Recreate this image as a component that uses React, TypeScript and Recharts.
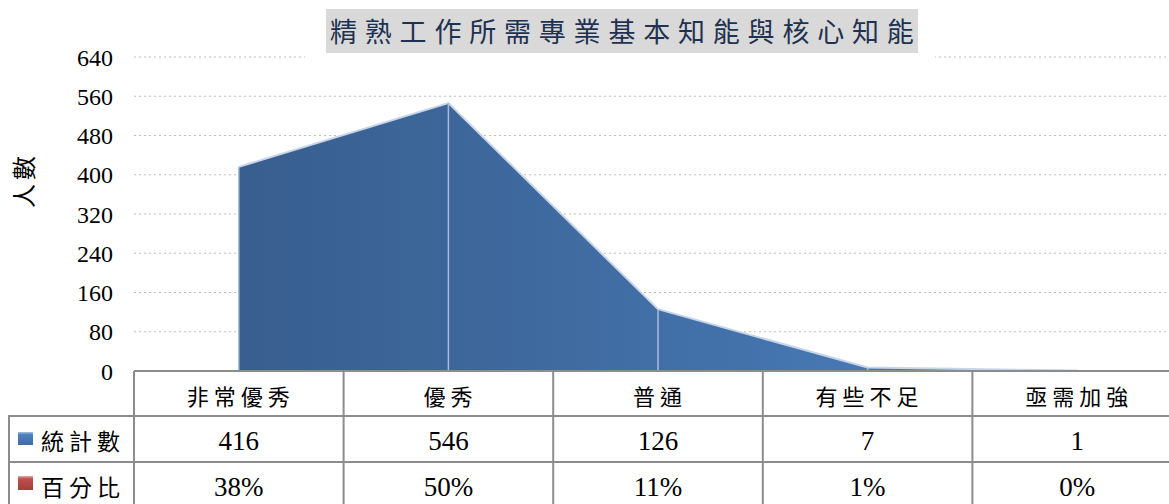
import React from 'react';
import { ComposedChart, Area, XAxis, YAxis, CartesianGrid, ReferenceLine } from 'recharts';

const categories = ['非常優秀', '優秀', '普通', '有些不足', '亟需加強'];
const counts = [416, 546, 126, 7, 1];
const percents = ['38%', '50%', '11%', '1%', '0%'];
const yTicks = [0, 80, 160, 240, 320, 400, 480, 560, 640];

const data = categories.map((name, i) => ({ name, count: counts[i], pct: percents[i] }));

const CJK = '"Noto Sans CJK TC", "Noto Sans CJK SC", sans-serif';
const SERIF = '"Liberation Serif", "DejaVu Serif", serif';
const LINE = '#8c8c8c';
const ROW1 = 45;
const ROW2 = 91;

// each x-axis tick draws one column of the data table
const TableTick = (props: any) => {
  const { x, y, payload, index } = props;
  const half = payload.offset || 104.8;
  const left = x - half;
  const right = x + half;
  const row = data[index] || data.find((d) => d.name === payload.value);
  return (
    <g>
      <line x1={left} x2={right} y1={y} y2={y} stroke={LINE} strokeWidth={2} />
      <line x1={left} x2={right} y1={y + ROW1} y2={y + ROW1} stroke={LINE} strokeWidth={2} />
      <line x1={left} x2={right} y1={y + ROW2} y2={y + ROW2} stroke={LINE} strokeWidth={2} />
      {index === 0 && <line x1={left} x2={left} y1={y} y2={y + 140} stroke={LINE} strokeWidth={2} />}
      <line x1={right} x2={right} y1={y} y2={y + 140} stroke={LINE} strokeWidth={2} />
      <text x={x + 2} y={y + 24} textAnchor="middle" dominantBaseline="central" fontFamily={CJK} fontSize={22} letterSpacing={5} fill="#000">
        {payload.value}
      </text>
      <text x={x} y={y + 70} textAnchor="middle" dominantBaseline="central" fontFamily={SERIF} fontSize={27} fill="#000">
        {row ? row.count : ''}
      </text>
      <text x={x} y={y + 116} textAnchor="middle" dominantBaseline="central" fontFamily={SERIF} fontSize={27} fill="#000">
        {row ? row.pct : ''}
      </text>
    </g>
  );
};

export default function App() {
  return (
    <div style={{ position: 'absolute', left: 0, top: 0, width: 1169, height: 504, overflow: 'hidden', background: '#fff' }}>
      <ComposedChart width={1182} height={504} data={data} margin={{ top: 57, right: 0, left: 0, bottom: 0 }}>
        <defs>
          <linearGradient id="areaFill" x1="0" y1="0" x2="1" y2="0">
            <stop offset="0%" stopColor="#385e8e" />
            <stop offset="60%" stopColor="#4372ab" />
            <stop offset="100%" stopColor="#5184c3" />
          </linearGradient>
        </defs>
        <CartesianGrid vertical={false} stroke="#bdbdbd" strokeDasharray="2 3" />
        <YAxis
          width={134}
          domain={[0, 640]}
          ticks={yTicks}
          interval={0}
          axisLine={false}
          tickLine={false}
          tickSize={0}
          tickMargin={21}
          tick={{ fontFamily: SERIF, fontSize: 24, fill: '#000' }}
        />
        <XAxis
          dataKey="name"
          scale="band"
          height={133}
          interval={0}
          axisLine={false}
          tickLine={false}
          tickSize={0}
          tickMargin={0}
          tick={<TableTick />}
        />
        <Area
          type="linear"
          dataKey="count"
          fill="url(#areaFill)"
          fillOpacity={1}
          stroke="#c8d5e8"
          strokeWidth={2}
          dot={false}
          activeDot={false}
          isAnimationActive={false}
        />
        {data.map((d) => (
          <ReferenceLine
            key={d.name}
            segment={[{ x: d.name, y: 0 }, { x: d.name, y: d.count }]}
            stroke="#a9bcd7"
            strokeWidth={1.5}
            ifOverflow="visible"
          />
        ))}
      </ComposedChart>

      {/* title */}
      <div style={{ position: 'absolute', left: 305, top: 0, width: 630, height: 62, background: '#fff' }}>
        <div
          style={{
            position: 'absolute',
            left: 21,
            top: 9,
            width: 592,
            height: 44,
            background: '#d9d9d9',
            color: '#1f3251',
            fontFamily: CJK,
            fontSize: 27,
            letterSpacing: 7.8,
            lineHeight: '44px',
            whiteSpace: 'nowrap',
            textAlign: 'center',
            textIndent: 4,
          }}
        >
          精熟工作所需專業基本知能與核心知能
        </div>
      </div>

      {/* y axis title */}
      <div
        style={{
          position: 'absolute',
          left: 22,
          top: 180,
          transform: 'translate(-50%, -50%) rotate(-90deg)',
          fontFamily: CJK,
          fontSize: 24,
          letterSpacing: 4,
          whiteSpace: 'nowrap',
          color: '#000',
        }}
      >
        人數
      </div>

      {/* legend keys of the data table */}
      <svg style={{ position: 'absolute', left: 0, top: 371 }} width={136} height={133}>
        <defs>
          <linearGradient id="keyBlue" x1="0" y1="0" x2="0" y2="1">
            <stop offset="0%" stopColor="#a9c1e2" />
            <stop offset="20%" stopColor="#4f81bd" />
            <stop offset="100%" stopColor="#3d6ca6" />
          </linearGradient>
          <linearGradient id="keyRed" x1="0" y1="0" x2="0" y2="1">
            <stop offset="0%" stopColor="#e3a9a8" />
            <stop offset="20%" stopColor="#c0504d" />
            <stop offset="100%" stopColor="#a33e3b" />
          </linearGradient>
        </defs>
        <line x1={8} x2={136} y1={ROW1} y2={ROW1} stroke={LINE} strokeWidth={2} />
        <line x1={8} x2={136} y1={ROW2} y2={ROW2} stroke={LINE} strokeWidth={2} />
        <line x1={9} x2={9} y1={ROW1} y2={140} stroke={LINE} strokeWidth={2} />
        <rect x={18} y={61} width={15} height={13} fill="url(#keyBlue)" />
        <rect x={18} y={105} width={15} height={14} fill="url(#keyRed)" />
        <text x={41} y={69} dominantBaseline="central" fontFamily={CJK} fontSize={23} letterSpacing={5} fill="#000">
          統計數
        </text>
        <text x={41} y={115} dominantBaseline="central" fontFamily={CJK} fontSize={23} letterSpacing={5} fill="#000">
          百分比
        </text>
      </svg>
    </div>
  );
}
